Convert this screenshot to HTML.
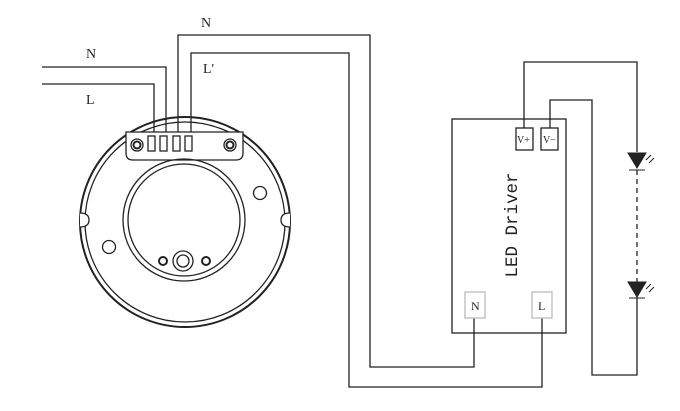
<!DOCTYPE html><html><head><style>body{margin:0;background:#fff}svg{display:block}</style></head><body>
<svg width="680" height="411" viewBox="0 0 680 411" xmlns="http://www.w3.org/2000/svg" font-family="Liberation Serif, serif">
<g fill="none" stroke="#222" stroke-width="1.3">
<polyline points="42,67 166,67 166,136"/>
<polyline points="42,84 154,84 154,136"/>
<polyline points="178,136 178,35 370,35 370,367 474,367 474,318"/>
<polyline points="191,136 191,53 349,53 349,387 542,387 542,318"/>
<polyline points="524,128 524,62 637,62 637,152"/>
<polyline points="550,128 550,100 592,100 592,375 637,375 637,297"/>
<line x1="637" y1="170" x2="637" y2="282" stroke-dasharray="5,4"/>
<circle cx="185" cy="222" r="105" stroke-width="2"/>
<circle cx="185" cy="222" r="100"/>
<path d="M126,132 H243 V153 Q243,160 236,160 H133 Q126,160 126,153 Z" fill="#fff"/>
<rect x="148" y="136" width="7" height="15"/><rect x="160" y="136" width="7" height="15"/><rect x="173" y="136" width="7" height="15"/><rect x="185" y="136" width="7" height="15"/>
<circle cx="137" cy="145" r="6"/><circle cx="137" cy="145" r="3.5" stroke-width="2"/>
<circle cx="230" cy="145" r="6"/><circle cx="230" cy="145" r="3.5" stroke-width="2"/>
<circle cx="184" cy="220" r="61"/><circle cx="184" cy="220" r="56"/>
<circle cx="260" cy="193" r="6.5"/><circle cx="109" cy="247" r="6.5"/>
<circle cx="163" cy="261" r="4" stroke-width="2"/><circle cx="206" cy="261" r="4" stroke-width="2"/>
<circle cx="183" cy="261" r="10"/><circle cx="183" cy="261" r="6"/>
<path d="M80,213 Q89,213 89,220 Q89,227 80,227" fill="#fff"/>
<path d="M290,213 Q281,213 281,220 Q281,227 290,227" fill="#fff"/>
<rect x="452" y="119" width="114" height="214"/>
<rect x="516" y="128" width="17" height="22" fill="#fff"/>
<rect x="541" y="128" width="17" height="22" fill="#fff"/>
<rect x="465" y="292" width="20" height="26" stroke="#bbb" fill="#fff"/>
<rect x="532" y="292" width="20" height="26" stroke="#bbb" fill="#fff"/>
</g>
<g fill="#222" stroke="#222" stroke-width="1">
<polygon points="628,153 646,153 637,168"/><line x1="629" y1="170" x2="645" y2="170"/>
<polygon points="628,282 646,282 637,297"/><line x1="629" y1="298" x2="645" y2="298"/>
<path d="M646,160 l5,-5 M649,163 l5,-5 M646,289 l5,-5 M649,292 l5,-5" fill="none"/>
</g>
<g fill="#222" font-size="14">
<text x="86" y="58">N</text><text x="86" y="104">L</text>
<text x="201" y="27">N</text><text x="203" y="73">L'</text>
<text font-size="10" x="517" y="143">V+</text><text font-size="10" x="543" y="143">V−</text>
<text font-size="12" x="471" y="310">N</text><text font-size="12" x="538" y="310">L</text>
<text font-size="17.5" font-family="Liberation Mono, monospace" transform="translate(517,225) rotate(-90)" text-anchor="middle">LED Driver</text>
</g>
</svg></body></html>
